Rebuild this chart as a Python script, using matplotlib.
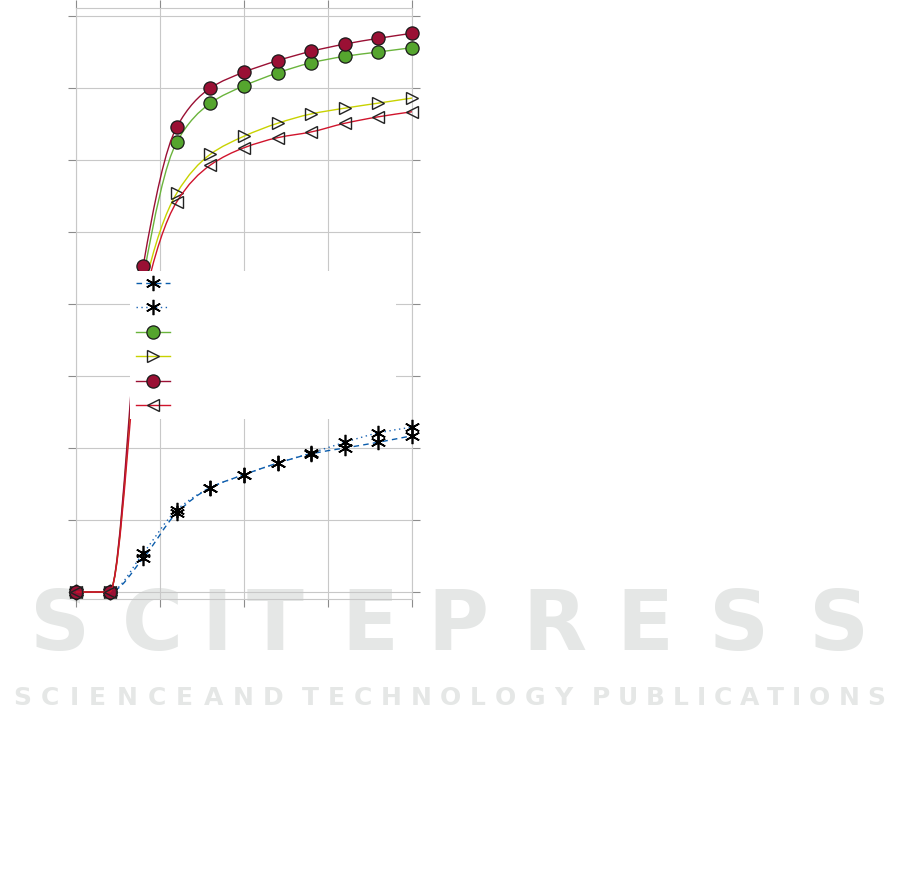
import numpy as np
import matplotlib
matplotlib.use("Agg")
import matplotlib.pyplot as plt
from matplotlib.path import Path
from matplotlib.patches import PathPatch
from matplotlib.lines import Line2D
from matplotlib.textpath import TextToPath
from matplotlib.font_manager import FontProperties

W, H, DPI = 901, 881, 100

# data (x = step, y in grid units)
steps = np.arange(11)
dash_star = [0, 0, 0.47, 1.10, 1.45, 1.63, 1.79, 1.92, 2.00, 2.08, 2.17]
dot_star = [0, 0, 0.54, 1.14, 1.45, 1.63, 1.79, 1.93, 2.08, 2.21, 2.29]
green_circ = [0, 0, 4.35, 6.25, 6.79, 7.03, 7.21, 7.35, 7.44, 7.50, 7.56]
yellow_tri = [0, 0, 4.15, 5.54, 6.08, 6.33, 6.51, 6.64, 6.72, 6.79, 6.86]
red_circ = [0, 0, 4.53, 6.46, 7.00, 7.22, 7.38, 7.51, 7.61, 7.69, 7.76]
red_tri = [0, 0, 4.00, 5.42, 5.93, 6.17, 6.31, 6.39, 6.51, 6.60, 6.67]

x_ticks = [0, 2.5, 5, 7.5, 10]
y_ticks = list(range(9))

watermark_big = ["S", "C", "I", "T", "E", "P", "R", "E", "S", "S"]
big_spans = [(17, 103), (109, 195), (205, 228), (230, 320), (326, 413),
             (415, 500), (510, 598), (605, 685), (695, 784), (796, 882)]
watermark_small = ["SCIENCE", "AND", "TECHNOLOGY", "PUBLICATIONS"]
small_spans = [(13, 193), (204, 284), (302, 572), (592, 885)]


def smooth_path(xs, ys):
    # monotone cubic (pchip-style) tangents, drawn as bezier segments
    xs = np.asarray(xs, float)
    ys = np.asarray(ys, float)
    h = np.diff(xs)
    delta = np.diff(ys) / h
    n = len(xs)
    d = np.zeros(n)
    for k in range(1, n - 1):
        if delta[k - 1] * delta[k] > 0:
            w1 = 2 * h[k] + h[k - 1]
            w2 = h[k] + 2 * h[k - 1]
            d[k] = (w1 + w2) / (w1 / delta[k - 1] + w2 / delta[k])
    d[-1] = delta[-1]
    verts = [(xs[0], ys[0])]
    codes = [Path.MOVETO]
    for k in range(n - 1):
        verts += [(xs[k] + h[k] / 3, ys[k] + d[k] * h[k] / 3),
                  (xs[k + 1] - h[k] / 3, ys[k + 1] - d[k + 1] * h[k] / 3),
                  (xs[k + 1], ys[k + 1])]
        codes += [Path.CURVE4] * 3
    return Path(verts, codes)


fig = plt.figure(figsize=(W / DPI, H / DPI), dpi=DPI)
fig.patch.set_facecolor("white")
ax = fig.add_axes([76 / W, 282 / H, 336 / W, 591 / H])
ax.set_facecolor("none")

star = (6, 2, 0)
series = [
    (dash_star, "#0a5cab", (0, (4, 3)), star, "black", "black", 11, 1.2),
    (dot_star, "#1a64b4", (0, (1, 2.5)), star, "black", "black", 11, 1.2),
    (green_circ, "#6ab43c", "-", "o", "#55a52e", "#1a1a1a", 9.5, 0.9),
    (yellow_tri, "#c8d200", "-", ">", "none", "#222222", 8.5, 1.0),
    (red_circ, "#9a1034", "-", "o", "#9a1034", "#1a1a1a", 9.5, 0.9),
    (red_tri, "#d0142c", "-", "<", "none", "#222222", 8.5, 1.0),
]

handles = []
for i, (ys, lc, ls, mk, mfc, mec, ms, mew) in enumerate(series):
    z = 3 + i * 0.1
    ax.add_patch(PathPatch(smooth_path(steps, ys), fill=False, edgecolor=lc,
                           lw=1.0, linestyle=ls, zorder=z))
    ax.plot(steps, ys, linestyle="none", marker=mk, ms=ms, mfc=mfc, mec=mec,
            mew=mew, zorder=z + 0.05, clip_on=False)
    handles.append(Line2D([], [], color=lc, lw=1.0, linestyle=ls, marker=mk,
                          ms=ms, mfc=mfc, mec=mec, mew=mew))

ax.set_xlim(0, 10)
ax.set_ylim(-0.097, 8.111)
ax.set_xticks(x_ticks)
ax.set_yticks(y_ticks)
ax.grid(True, color="#c8c8c8", lw=0.8)
ax.set_axisbelow(True)
for s in ax.spines.values():
    s.set_color("#c8c8c8")
    s.set_linewidth(0.8)
ax.tick_params(direction="out", length=5.8, width=0.8, color="#8c8c8c",
               top=True, right=True, labelbottom=False, labelleft=False)

blank = " " * 48
leg = ax.legend(handles, [blank] * len(handles), loc="upper left",
                bbox_to_anchor=(130 / W, 1 - 271 / H), bbox_transform=fig.transFigure,
                borderaxespad=0, frameon=True, fancybox=False, framealpha=1,
                edgecolor="none", facecolor="white", fontsize=10,
                handlelength=2.45, labelspacing=0.76, borderpad=0.4)
leg.set_zorder(10)

# publisher watermark behind the chart
wm_color = "#e5e7e6"
ttp = TextToPath()


def spread(text, x0, x1, base, size):
    prop = FontProperties(family="DejaVu Sans", weight="bold", size=size)
    ws = [ttp.get_text_width_height_descent(c, prop, ismath=False)[0] * DPI / 72
          for c in text]
    gap = (x1 - x0 - sum(ws)) / max(len(text) - 1, 1)
    xx = x0
    for c, w in zip(text, ws):
        fig.text(xx / W, 1 - base / H, c, fontproperties=prop, color=wm_color,
                 ha="left", va="baseline", zorder=-1)
        xx += w + gap


big_prop = FontProperties(family="DejaVu Sans", weight="bold", size=60)
for letter, (a, b) in zip(watermark_big, big_spans):
    fig.text((a + b) / 2 / W, 1 - 650 / H, letter, fontproperties=big_prop,
             color=wm_color, ha="center", va="baseline", zorder=-1)
for word, (a, b) in zip(watermark_small, small_spans):
    spread(word, a, b, 705, 18)

fig.savefig("out.png", dpi=DPI)
